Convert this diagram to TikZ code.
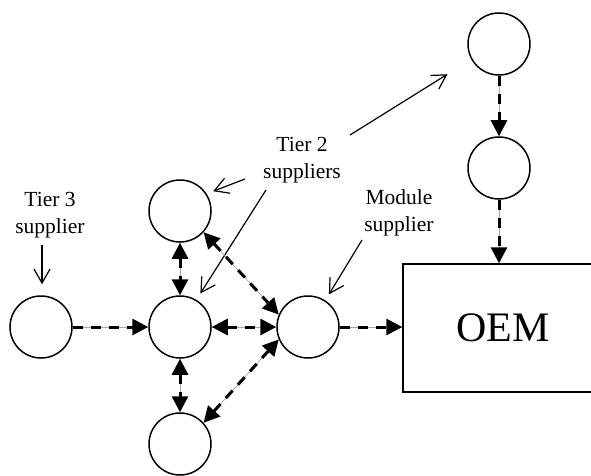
\documentclass[tikz,border=0pt]{standalone}
\usepackage{fontspec}
\setmainfont{Liberation Serif}
\usetikzlibrary{arrows.meta}
\begin{document}
\begin{tikzpicture}[x=1pt,y=-1pt,
  firm/.style={circle,draw,line width=1.5pt,minimum size=62pt,inner sep=0pt},
  lbl/.style={font=\fontsize{21.5}{27}\selectfont,align=center,inner sep=0pt},
  ptr/.style={line width=1.2pt,-{Straight Barb[length=14pt,width=16pt,line width=1.2pt]}},
  flow/.style={line width=3pt,dash pattern=on 10pt off 8pt,
    preaction={draw=gray!70,line width=0.7pt,solid,arrows=-}},
  one/.style={flow,-{Triangle[length=16pt,width=16pt]}},
  two/.style={flow,{Triangle[length=16pt,width=16pt]}-{Triangle[length=16pt,width=16pt]}},
]
\useasboundingbox (0,0) rectangle (591,476);

% firms
\node[firm] (t3) at (41,327) {};
\node[firm] (t2c) at (180,327) {};
\node[firm] (t2top) at (180,211) {};
\node[firm] (t2bot) at (180,444) {};
\node[firm] (mod) at (308,327) {};
\node[firm] (c1) at (499,44) {};
\node[firm] (c2) at (499,168) {};
\node[draw,line width=1.5pt,minimum width=200pt,minimum height=128pt,inner sep=0pt,
      font=\fontsize{42}{42}\selectfont] (oem) at (503,328) {OEM};

% labels
\node[lbl] (l3) at (50,215) {Tier 3\\supplier};
\node[lbl] (l2) at (302,160) {Tier 2\\suppliers};
\node[lbl] (lm) at (399,213) {Module\\supplier};

% pointer tails
\coordinate (p3) at (42,245);
\coordinate (p2a) at (245,179);
\coordinate (p2b) at (266,190);
\coordinate (p2c) at (350,135);
\coordinate (pm) at (362,240);

\draw[ptr,shorten >=11pt] (p3) -- (p3 |- t3.north);
\draw[ptr,shorten >=7pt] (p2a) -- (t2top.33);
\draw[ptr,shorten >=7.5pt] (p2b) -- (t2c.59);
\draw[ptr,shorten >=28pt] (p2c) -- (c1.209);
\draw[ptr,shorten >=7pt] (pm) -- (mod.57);

% material flows
\draw[one] (t3.east) -- (t2c.west);
\draw[two] (t2c.east) -- (mod.west);
\draw[two] (t2top.south) -- (t2c.north);
\draw[two] (t2c.south) -- (t2bot.north);
\draw[two] (t2top.-42) -- (mod.157);
\draw[two] (t2bot.42) -- (mod.203);
\draw[one] (mod.east) -- (oem.west |- mod.east);
\draw[one] (c1.south) -- (c2.north);
\draw[one] (c2.south) -- (c2.south |- oem.north);
\end{tikzpicture}
\end{document}
